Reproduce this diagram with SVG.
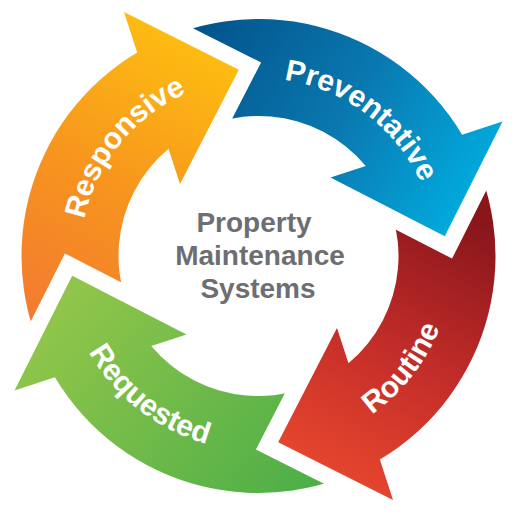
<svg xmlns="http://www.w3.org/2000/svg" width="517" height="517" viewBox="0 0 517 517">
  <style>
    .lbl { font-family: "Liberation Sans", Arial, Helvetica, sans-serif; font-weight: bold; font-size: 30px; fill: #ffffff; }
    .ctr { font-family: "Liberation Sans", Arial, Helvetica, sans-serif; font-weight: bold; font-size: 28px; fill: #6d6e71; text-anchor: middle; }
    .cut { fill: #000; stroke: #000; stroke-width: 33; stroke-linejoin: miter; }
  </style>
  <defs>
    <linearGradient id="gOrange" gradientUnits="userSpaceOnUse" x1="60" y1="330" x2="220" y2="40">
      <stop offset="0" stop-color="#f37b30"/>
      <stop offset="0.45" stop-color="#f7941e"/>
      <stop offset="1" stop-color="#fec010"/>
    </linearGradient>
    <linearGradient id="gBlue" gradientUnits="userSpaceOnUse" x1="190" y1="40" x2="480" y2="220">
      <stop offset="0" stop-color="#02548a"/>
      <stop offset="0.5" stop-color="#0a78b0"/>
      <stop offset="1" stop-color="#00b1e3"/>
    </linearGradient>
    <linearGradient id="gRed" gradientUnits="userSpaceOnUse" x1="470" y1="220" x2="330" y2="490">
      <stop offset="0" stop-color="#8a161c"/>
      <stop offset="0.5" stop-color="#c32d29"/>
      <stop offset="1" stop-color="#e9482d"/>
    </linearGradient>
    <linearGradient id="gGreen" gradientUnits="userSpaceOnUse" x1="320" y1="490" x2="80" y2="290">
      <stop offset="0" stop-color="#4cae48"/>
      <stop offset="1" stop-color="#8fc54a"/>
    </linearGradient>
    <mask id="mOrange" maskUnits="userSpaceOnUse" x="0" y="0" width="517" height="517">
      <rect x="0" y="0" width="517" height="517" fill="#fff"/>
      <polygon class="cut" points="14.5,390.5 72.2,275.7 186.5,334.5"/>
    </mask>
    <mask id="mBlue" maskUnits="userSpaceOnUse" x="0" y="0" width="517" height="517">
      <rect x="0" y="0" width="517" height="517" fill="#fff"/>
      <polygon class="cut" points="124,12 238.8,69.7 180,184"/>
    </mask>
    <mask id="mRed" maskUnits="userSpaceOnUse" x="0" y="0" width="517" height="517">
      <rect x="0" y="0" width="517" height="517" fill="#fff"/>
      <polygon class="cut" points="502.5,121.5 444.8,236.3 330.5,177.5"/>
    </mask>
    <mask id="mGreen" maskUnits="userSpaceOnUse" x="0" y="0" width="517" height="517">
      <rect x="0" y="0" width="517" height="517" fill="#fff"/>
      <polygon class="cut" points="393,500 278.2,442.3 337,328"/>
    </mask>
    <path id="pResponsive" d="M 92.3 319.8 A 178 178 0 0 1 286.3 80.2"/>
    <path id="pPreventative" d="M 188.9 92.2 A 178 178 0 0 1 435.2 277.7"/>
    <path id="pRoutine" d="M 231.4 449.1 A 195 195 0 0 0 439.3 183.0"/>
    <path id="pRequested" d="M 65.4 228.9 A 195 195 0 0 0 331.5 436.8"/>
  </defs>

  <rect x="0" y="0" width="517" height="517" fill="#ffffff"/>

  <g id="responsive">
    <path fill="url(#gOrange)" mask="url(#mOrange)" d="M 54.92 377.34 A 237 237 0 0 1 137.16 52.42 L 124 12 L 238.8 69.7 L 180 184 L 168.52 148.74 A 140 140 0 0 0 151.24 345.98 Z"/>
    <text class="lbl"><textPath href="#pResponsive" startOffset="50%" text-anchor="middle">Responsive</textPath></text>
  </g>

  <g id="preventative">
    <path fill="url(#gBlue)" mask="url(#mBlue)" d="M 137.16 52.42 A 237 237 0 0 1 462.08 134.66 L 502.5 121.5 L 444.8 236.3 L 330.5 177.5 L 365.76 166.02 A 140 140 0 0 0 168.52 148.74 Z"/>
    <text class="lbl"><textPath href="#pPreventative" startOffset="50%" text-anchor="middle">Preventative</textPath></text>
  </g>

  <g id="routine">
    <path fill="url(#gRed)" mask="url(#mRed)" d="M 462.08 134.66 A 237 237 0 0 1 379.84 459.58 L 393 500 L 278.2 442.3 L 337 328 L 348.48 363.26 A 140 140 0 0 0 365.76 166.02 Z"/>
    <text class="lbl"><textPath href="#pRoutine" startOffset="50%" text-anchor="middle">Routine</textPath></text>
  </g>

  <g id="requested">
    <path fill="url(#gGreen)" mask="url(#mGreen)" d="M 379.84 459.58 A 237 237 0 0 1 54.92 377.34 L 14.5 390.5 L 72.2 275.7 L 186.5 334.5 L 151.24 345.98 A 140 140 0 0 0 348.48 363.26 Z"/>
    <text class="lbl"><textPath href="#pRequested" startOffset="50%" text-anchor="middle">Requested</textPath></text>
  </g>

  <g id="center-title">
    <text class="ctr" x="254" y="231.5">Property</text>
    <text class="ctr" x="260" y="264.5">Maintenance</text>
    <text class="ctr" x="258" y="297.5">Systems</text>
  </g>

  <g id="connectors"></g>
</svg>
